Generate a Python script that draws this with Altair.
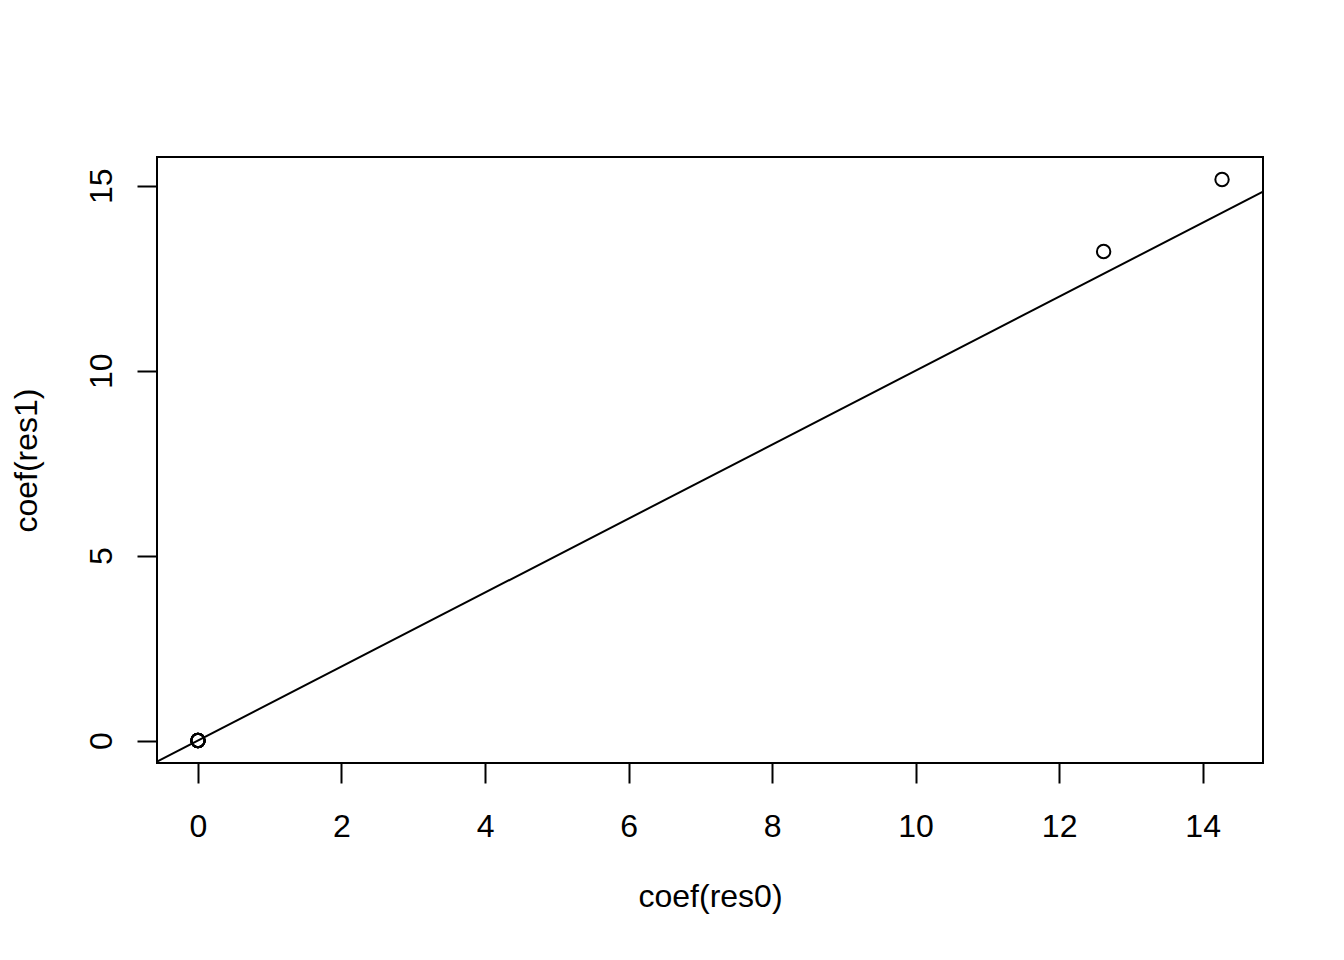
import altair as alt
import pandas as pd

# coefficients
coef_res0 = [0.0, 0.0, 0.0, 0.0, 0.0, 0.0, 12.62, 14.27]
coef_res1 = [0.0, 0.0, 0.0, 0.0, 0.0, 0.0, 13.22, 15.17]
x_ticks = [0, 2, 4, 6, 8, 10, 12, 14]
y_ticks = [0, 5, 10, 15]

def r_range(v):
    lo, hi = min(v), max(v)
    d = (hi - lo) * 0.04
    return [lo - d, hi + d]

xdom = r_range(coef_res0)
ydom = r_range(coef_res1)

pts = pd.DataFrame({"x": coef_res0, "y": coef_res1})
# abline(0, 1) spanning the x range of the plot
ab = pd.DataFrame({"x": xdom, "y": xdom})

FONT = "Liberation Sans"

xaxis = alt.Axis(values=x_ticks, format="d", grid=False, domain=False, tickSize=20, tickWidth=2,
                 tickColor="black", labelFontSize=32, labelFont=FONT, labelColor="black",
                 labelPadding=53, labelBaseline="alphabetic", labelFlush=False,
                 title="coef(res0)", titleFontSize=32, titleFont=FONT, titleFontWeight="normal",
                 titleColor="black", titleBaseline="alphabetic", titleY=143, titleX=553)
yaxis = alt.Axis(values=y_ticks, format="d", grid=False, domain=False, tickSize=20, tickWidth=2,
                 tickColor="black", labelFontSize=32, labelFont=FONT, labelColor="black",
                 labelAngle=270, labelAlign="center", labelBaseline="alphabetic",
                 labelPadding=26, labelFlush=False,
                 title="coef(res1)", titleFontSize=32, titleFont=FONT, titleFontWeight="normal",
                 titleColor="black", titleAngle=270, titleBaseline="alphabetic",
                 titleAlign="center", titleX=-121, titleY=303)

xs = alt.Scale(domain=xdom, nice=False, zero=False)
ys = alt.Scale(domain=ydom, nice=False, zero=False)

points = alt.Chart(pts).mark_point(shape="circle", filled=False, color="black",
                                   size=180, strokeWidth=2, opacity=1).encode(
    x=alt.X("x:Q", scale=xs, axis=xaxis),
    y=alt.Y("y:Q", scale=ys, axis=yaxis),
)

line = alt.Chart(ab).mark_line(color="black", strokeWidth=2, clip=True).encode(
    x=alt.X("x:Q", scale=xs),
    y=alt.Y("y:Q", scale=ys),
)

chart = alt.layer(line, points).properties(
    width=1106, height=606,
    autosize=alt.AutoSizeParams(type="none"),
    padding={"left": 149, "top": 149, "right": 65, "bottom": 180},
    background="white",
).configure_view(stroke="black", strokeWidth=2)

chart.save("out.html", embed_options={"renderer": "svg", "actions": False})
